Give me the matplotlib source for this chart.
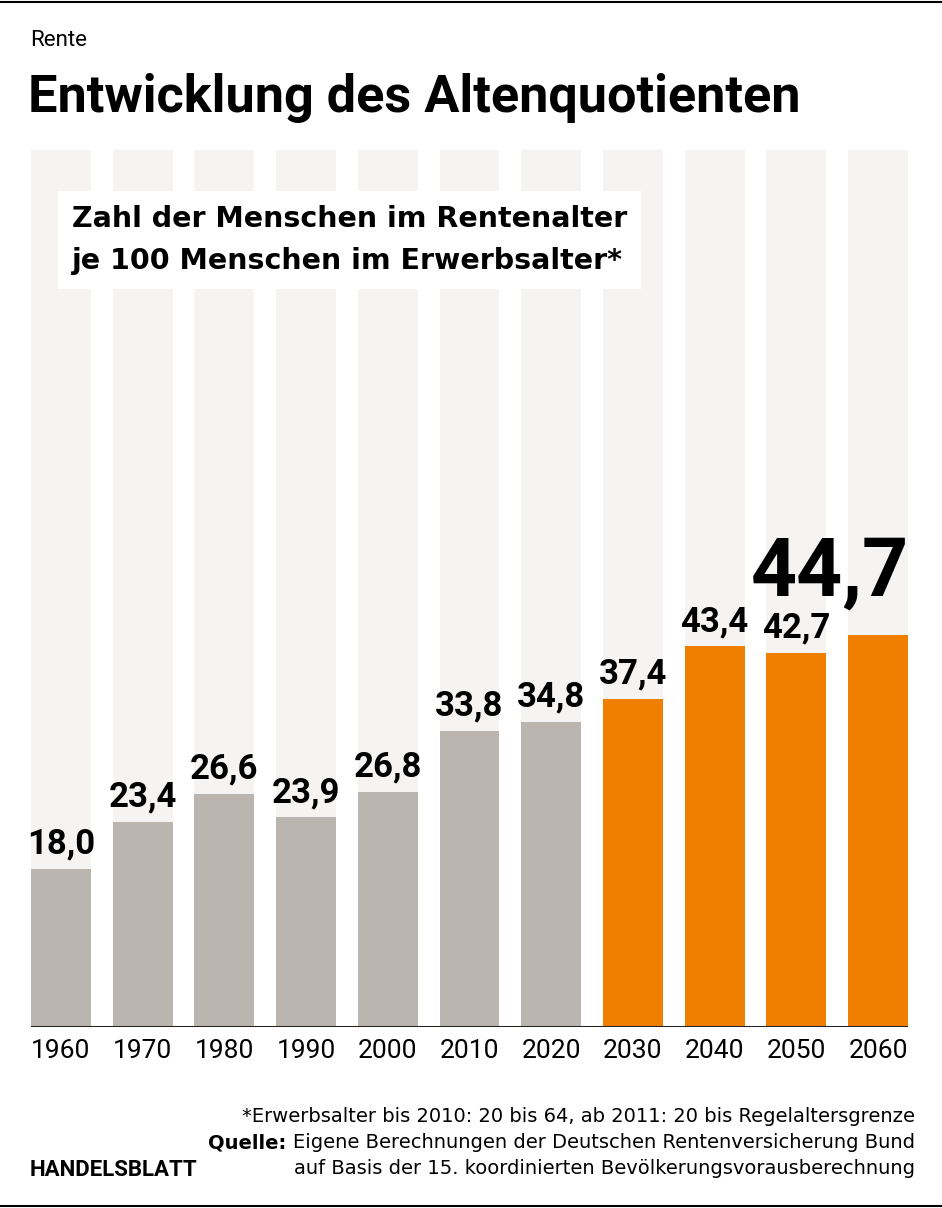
import matplotlib
matplotlib.use('Agg')
import matplotlib.pyplot as plt

# data
years = ['1960', '1970', '1980', '1990', '2000', '2010', '2020', '2030', '2040', '2050', '2060']
values = [18.0, 23.4, 26.6, 23.9, 26.8, 33.8, 34.8, 37.4, 43.4, 42.7, 44.7]
projected = [False] * 7 + [True] * 4

grey = '#bab5ae'
orange = '#f07f00'
back = '#f5f4f2'

# no condensed face installed, Roboto is the narrowest of the lot
plt.rcParams['font.family'] = ['Roboto', 'DejaVu Sans']

fig = plt.figure(figsize=(9.42, 12.08), dpi=100)
ax = fig.add_axes([31 / 942, 181 / 1208, 877 / 942, 877 / 1208])

x = list(range(len(years)))
colors = [orange if p else grey for p in projected]
ax.bar(x, [100] * len(x), width=0.734, color=back, zorder=1)
ax.bar(x, values, width=0.734, color=colors, zorder=2)
ax.set_xlim(-0.367, len(x) - 1 + 0.367)
ax.set_ylim(0, 100)
ax.axhline(0, color='#222222', lw=2.2, zorder=3)

for i, v in enumerate(values[:-1]):
    ax.annotate(f'{v:.1f}'.replace('.', ','), (i, v), xytext=(0, 6), textcoords='offset points',
                ha='center', va='bottom', fontsize=25, fontweight='bold', color='black')
ax.annotate(f'{values[-1]:.1f}'.replace('.', ','), (len(x) - 1 + 0.367, values[-1]), xytext=(1, 16),
            textcoords='offset points', ha='right', va='bottom', fontsize=58, fontweight='bold',
            color='black')

ax.set_xticks(x)
ax.set_xticklabels(years, fontsize=19)
ax.tick_params(axis='x', length=0, pad=9)
ax.set_yticks([])
for s in ax.spines.values():
    s.set_visible(False)

# subtitle box
fig.text(72 / 942, 1 - 240 / 1208, 'Zahl der Menschen im Rentenalter\nje 100 Menschen im Erwerbsalter*',
         fontsize=20.5, fontweight='bold', family='DejaVu Sans', va='center', ha='left', linespacing=1.68,
         bbox=dict(facecolor='white', edgecolor='none', pad=10))

# header
fig.text(30 / 942, 1 - 41 / 1208, 'Rente', fontsize=16, va='center', ha='left')
title = fig.text(28 / 942, 1 - 98 / 1208, 'Entwicklung des Altenquotienten', fontsize=40,
                 fontweight='bold', va='center', ha='left')

# footer
fig.text(915 / 942, 1 - 1117 / 1208, '*Erwerbsalter bis 2010: 20 bis 64, ab 2011: 20 bis Regelaltersgrenze',
         fontsize=14, family='DejaVu Sans', ha='right', va='center')
src = fig.text(915 / 942, 1 - 1143 / 1208, 'Eigene Berechnungen der Deutschen Rentenversicherung Bund',
               fontsize=14, family='DejaVu Sans', ha='right', va='center')
ax.annotate('Quelle: ', xy=(0, 0.5), xycoords=src, fontsize=14, family='DejaVu Sans',
            fontweight='bold', ha='right', va='center', annotation_clip=False)
fig.text(915 / 942, 1 - 1169 / 1208, 'auf Basis der 15. koordinierten Bevölkerungsvorausberechnung',
         fontsize=14, family='DejaVu Sans', ha='right', va='center')
fig.text(30 / 942, 1 - 1170 / 1208, 'HANDELSBLATT', fontsize=16, fontweight='bold', ha='left', va='center')

# border lines
fig.add_artist(plt.Line2D([0, 1], [1 - 1.5 / 1208, 1 - 1.5 / 1208], color='black', lw=1.5))
fig.add_artist(plt.Line2D([0, 1], [1 - 1206 / 1208, 1 - 1206 / 1208], color='black', lw=1.5))

# fit the title to the width it has in the original
fig.canvas.draw()
w = title.get_window_extent().width
title.set_fontsize(40 * 772 / w)

fig.savefig('out.png', dpi=100, facecolor='white')
